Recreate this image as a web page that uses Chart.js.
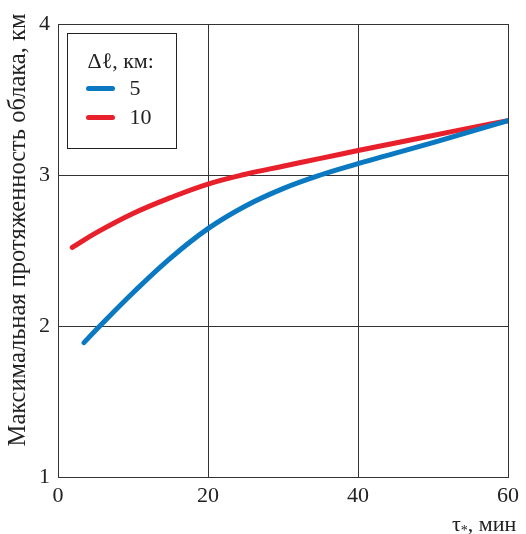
<!DOCTYPE html>
<html><head><meta charset="utf-8">
<script src="https://cdn.jsdelivr.net/npm/chart.js@4"></script>
<style>html,body{margin:0;padding:0;background:#fff}#wrap{width:526px;height:534px}</style>
</head><body><div id="wrap"><canvas id="c" width="526" height="534"></canvas></div>
<script>
const xTicks = [0, 20, 40, 60];
const yTicks = [1, 2, 3, 4];
const seriesLabels = ['5', '10'];
const tau5 = [3.47, 5, 10, 15, 20, 25, 30, 35, 40, 45, 50, 55, 60];
const len5 = [1.89, 1.97, 2.22, 2.45, 2.645, 2.795, 2.91, 3.0, 3.075, 3.145, 3.215, 3.287, 3.36];
const tau10 = [1.9, 5, 10, 15, 20, 25, 30, 35, 40, 45, 50, 55, 60];
const len10 = [2.52, 2.615, 2.745, 2.85, 2.94, 3.005, 3.058, 3.11, 3.162, 3.212, 3.262, 3.312, 3.36];
const legendTitle = 'Δℓ, км:';
const yTitle = 'Максимальная протяженность облака, км';

const serif = '"Times New Roman", "Liberation Serif", Tinos, "Nimbus Roman", "DejaVu Serif", serif';
const pts = (xs, ys) => xs.map((x, i) => ({x, y: ys[i]}));

const overlay = {
  id: 'overlay',
  afterDraw(chart) {
    const ctx = chart.ctx;
    const a = chart.chartArea;
    ctx.save();
    ctx.fillStyle = '#222';
    ctx.font = '20px ' + serif;
    const w20 = ctx.measureText(yTitle).width;
    const fs = Math.min(26, 20 * 432 / w20);
    ctx.font = fs.toFixed(1) + 'px ' + serif;
    ctx.translate(19, 230);
    ctx.rotate(-Math.PI / 2);
    ctx.textAlign = 'center';
    ctx.textBaseline = 'middle';
    ctx.fillText(yTitle, 0, 0);
    ctx.restore();
    ctx.save();
    ctx.fillStyle = '#222';
    ctx.font = '22px ' + serif;
    ctx.textBaseline = 'alphabetic';
    let x = 452, y = 531;
    ctx.fillText('τ', x, y);
    x += ctx.measureText('τ').width;
    ctx.font = '14px ' + serif;
    ctx.fillText('*', x, y + 4);
    x += ctx.measureText('*').width;
    ctx.font = '22px ' + serif;
    ctx.fillText(', мин', x, y);
    ctx.restore();
    ctx.save();
    const bx = a.left + 9.5, by = a.top + 9.5, bw = 109, bh = 115;
    ctx.fillStyle = '#fff';
    ctx.fillRect(bx, by, bw, bh);
    ctx.strokeStyle = '#222';
    ctx.lineWidth = 1;
    ctx.strokeRect(bx, by, bw, bh);
    ctx.fillStyle = '#222';
    ctx.font = '22px ' + serif;
    ctx.textBaseline = 'middle';
    ctx.textAlign = 'left';
    ctx.fillText(legendTitle, bx + 20, by + 29);
    chart.data.datasets.forEach((ds, i) => {
      const ly = by + 55 + i * 29;
      ctx.strokeStyle = ds.borderColor;
      ctx.lineWidth = 5;
      ctx.lineCap = 'round';
      ctx.beginPath();
      ctx.moveTo(bx + 21, ly);
      ctx.lineTo(bx + 45, ly);
      ctx.stroke();
      ctx.fillStyle = '#222';
      ctx.fillText(ds.label, bx + 62, ly + 1);
    });
    ctx.restore();
  }
};

new Chart(document.getElementById('c'), {
  type: 'line',
  data: {
    datasets: [
      {label: seriesLabels[0], data: pts(tau5, len5), borderColor: '#0a79c2', borderWidth: 5,
       pointRadius: 0, tension: 0.4, borderCapStyle: 'round', borderJoinStyle: 'round', fill: false},
      {label: seriesLabels[1], data: pts(tau10, len10), borderColor: '#e8202c', borderWidth: 5,
       pointRadius: 0, tension: 0.4, borderCapStyle: 'round', borderJoinStyle: 'round', fill: false}
    ]
  },
  options: {
    responsive: false,
    animation: false,
    layout: {padding: {top: 24, right: 18, left: 0, bottom: 0}},
    plugins: {legend: {display: false}, tooltip: {enabled: false}},
    scales: {
      x: {
        type: 'linear', min: 0, max: 60,
        afterBuildTicks: s => { s.ticks = xTicks.map(v => ({value: v})); },
        afterFit: s => { s.height = 57; },
        grid: {color: '#333', lineWidth: 1, drawTicks: false},
        border: {color: '#333', width: 1},
        ticks: {color: '#222', font: {family: serif, size: 22}, padding: 6}
      },
      y: {
        type: 'linear', min: 1, max: 4,
        afterBuildTicks: s => { s.ticks = yTicks.map(v => ({value: v})); },
        afterFit: s => { s.width = 58; },
        grid: {color: '#333', lineWidth: 1, drawTicks: false},
        border: {color: '#333', width: 1},
        ticks: {color: '#222', font: {family: serif, size: 22}, padding: 8}
      }
    }
  },
  plugins: [overlay]
});
</script>
</body></html>
